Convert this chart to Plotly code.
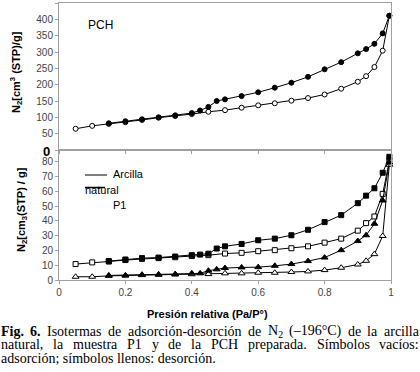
import plotly.graph_objects as go

# ---------------- data ----------------
pch_ads_x = [0.05, 0.1, 0.15, 0.2, 0.25, 0.3, 0.35, 0.4, 0.45, 0.5, 0.55, 0.6, 0.65, 0.7,
             0.75, 0.8, 0.85, 0.9, 0.925, 0.95, 0.975, 0.995]
pch_ads_y = [65, 74, 80, 85, 92, 99, 104, 110, 117, 122, 129.5, 136.7, 143, 151,
             159, 170, 187.7, 209, 226, 254, 304, 411]
pch_des_x = [0.15, 0.2, 0.25, 0.3, 0.35, 0.4, 0.425, 0.45, 0.475, 0.5, 0.55, 0.6, 0.65, 0.7,
             0.75, 0.8, 0.85, 0.9, 0.925, 0.95, 0.975, 0.995]
pch_des_y = [81.7, 88, 94, 100, 106, 113, 121, 132, 150, 155, 165, 176.6, 190.7, 206,
             224, 247, 269, 296, 309, 325, 357, 411]

ads_x = [0.05, 0.1, 0.15, 0.2, 0.25, 0.3, 0.35, 0.4, 0.45, 0.5, 0.55, 0.6, 0.65, 0.7,
         0.75, 0.8, 0.85, 0.9, 0.925, 0.95, 0.975, 0.995]
des_x = [0.15, 0.2, 0.25, 0.3, 0.35, 0.4, 0.425, 0.45, 0.475, 0.5, 0.55, 0.6, 0.65, 0.7,
         0.75, 0.8, 0.85, 0.9, 0.925, 0.95, 0.975, 0.995]

arc_ads_y = [10.8, 11.9, 12.5, 13.5, 14.3, 14.8, 15.4, 16.2, 16.8, 17.9, 18.4, 19.5, 20.2, 21.5,
             22.8, 25.3, 28.0, 33.4, 38.5, 43.0, 58.3, 80.7]
arc_des_y = [12.8, 13.9, 14.8, 15.2, 15.9, 16.8, 17.2, 17.8, 21.3, 22.8, 24.4, 26.9, 28.0, 30.3,
             34.0, 39.2, 43.9, 52.0, 57.1, 62.1, 72.6, 83.4]
p1_ads_y = [2.2, 2.2, 2.8, 3.0, 3.3, 3.5, 3.7, 3.9, 4.0, 4.5, 4.5, 4.9, 4.9, 5.4,
            5.8, 6.7, 8.3, 10.5, 13.0, 17.5, 29.8, 78.0]
p1_des_y = [3.1, 3.1, 3.6, 3.8, 4.0, 4.5, 4.5, 6.3, 7.2, 8.1, 8.5, 8.7, 9.6, 10.8,
            12.8, 15.2, 20.2, 26.4, 30.3, 38.1, 53.8, 79.5]

x_ticks = [0, 0.2, 0.4, 0.6, 0.8, 1]
x_ticklabels = ["0", "0.2", "0.4", "0.6", "0.8", "1"]
top_ticks = [0, 50, 100, 150, 200, 250, 300, 350, 400, 450]
bot_ticks = [0, 10, 20, 30, 40, 50, 60, 70, 80]

caption_line1 = ["<b>Fig.</b>", "<b>6.</b>", "Isotermas", "de", "adsorción-desorción", "de",
                 "N<sub>2</sub>", "(–196°C)", "de", "la", "arcilla"]
caption_line2 = ["natural,", "la", "muestra", "P1", "y", "de", "la", "PCH", "preparada.",
                 "Símbolos", "vacíos:"]
caption_line3 = "adsorción; símbolos llenos: desorción."

# ---------------- geometry helpers (pixel -> paper) ----------------
W, H = 420, 372
ML, MR, MT, MB = 59, 29, 3, 92
PW, PH = W - ML - MR, H - MT - MB


def px(x):
    return (x - ML) / PW


def py(y):
    return (H - MB - y) / PH


split = py(150)

fig = go.Figure()

LINE = dict(color="black", width=1)


def add(x, y, symbol, filled, axis, size):
    fig.add_trace(go.Scatter(
        x=x, y=y, mode="lines+markers", line=LINE,
        marker=dict(symbol=symbol, size=size, color="black" if filled else "white",
                    line=dict(color="black", width=1)),
        xaxis="x" if axis == 1 else "x2", yaxis="y" if axis == 1 else "y2",
        showlegend=False, cliponaxis=False))


add(pch_ads_x, pch_ads_y, "circle", False, 2, 5)
add(pch_des_x, pch_des_y, "circle", True, 2, 5)
add(ads_x, arc_ads_y, "square", False, 1, 5)
add(des_x, arc_des_y, "square", True, 1, 5)
add(ads_x, p1_ads_y, "triangle-up", False, 1, 6)
add(des_x, p1_des_y, "triangle-up", True, 1, 6)

SANS = "Liberation Sans, Arial"
TICKFONT = dict(family=SANS, size=10, color="#444")
axis_common = dict(showgrid=False, zeroline=False, showline=True, mirror=True,
                   linecolor="#a0a0a0", linewidth=1, ticks="outside", ticklen=3,
                   tickcolor="#a0a0a0", tickfont=TICKFONT)

fig.update_layout(
    width=W, height=H,
    margin=dict(l=ML, r=MR, t=MT, b=MB),
    paper_bgcolor="white", plot_bgcolor="white",
    xaxis=dict(range=[0, 1], domain=[0, 1], anchor="y", tickvals=x_ticks,
               ticktext=x_ticklabels, **axis_common),
    yaxis=dict(range=[0, 88], domain=[0, split], anchor="x", tickvals=bot_ticks,
               **axis_common),
    xaxis2=dict(range=[0, 1], domain=[0, 1], anchor="y2", matches="x", tickvals=x_ticks,
                showticklabels=False, **axis_common),
    yaxis2=dict(range=[0, 450], domain=[split, 1], anchor="x2", tickvals=top_ticks,
                ticktext=[""] + [str(v) for v in top_ticks[1:]], **axis_common),
)

ann = []


def note(text, x, y, size=11, xanchor="center", yanchor="middle", angle=0, family=SANS):
    ann.append(dict(x=px(x), y=py(y), xref="paper", yref="paper", text=text,
                    xanchor=xanchor, yanchor=yanchor, textangle=angle, showarrow=False,
                    borderpad=0, font=dict(family=family, size=size, color="black")))


# y-axis titles
note("<b>N<sub>2</sub>[cm<sup>3</sup> (STP)/g]</b>", 16, 72, angle=-90)
note("<b>N<sub>2</sub>[cm<sub>3</sub>(STP) / g]</b>", 22, 210, angle=-90)
# top panel large "0"
note("<b>0</b>", 51, 151, size=13, xanchor="right")
# x title
note("<b>Presión relativa (Pa/P°)</b>", 207, 314)
# PCH label
note("PCH", 87, 25, size=12, xanchor="left")
# legend texts
note("Arcilla", 112, 174, xanchor="left")
note("natural", 84, 190, xanchor="left")
note("P1", 112, 205, xanchor="left")

# caption (Times metrics, 1/1000 em) for justified lines
TW = {' ': 250, 'a': 444, 'b': 500, 'c': 444, 'd': 500, 'e': 444, 'f': 333, 'g': 500,
      'h': 500, 'i': 278, 'j': 278, 'k': 500, 'l': 278, 'm': 778, 'n': 500, 'o': 500,
      'p': 500, 'q': 500, 'r': 333, 's': 389, 't': 278, 'u': 500, 'v': 500, 'w': 722,
      'x': 500, 'y': 500, 'z': 444, 'ó': 500, 'í': 278, 'F': 611, 'I': 333, 'N': 722,
      'P': 556, 'C': 667, 'H': 722, 'S': 556, '.': 250, ',': 250, ':': 278, ';': 278,
      '-': 333, '(': 333, ')': 333, '–': 500, '°': 400, '0': 500, '1': 500, '2': 500,
      '3': 500, '4': 500, '5': 500, '6': 500, '7': 500, '8': 500, '9': 500}
CAPSIZE = 14
SERIF = "Liberation Serif, Times New Roman"


def word_width(w):
    plain = w.replace("<b>", "").replace("</b>", "")
    if "<sub>" in plain:
        base, sub = plain.split("<sub>")
        sub = sub.replace("</sub>", "")
        return (sum(TW.get(c, 500) for c in base) + 0.7 * sum(TW.get(c, 500) for c in sub)) * CAPSIZE / 1000
    return sum(TW.get(c, 500) for c in plain) * CAPSIZE / 1000


def justify(words, y, left=0, right=418):
    widths = [word_width(w) for w in words]
    gap = (right - left - sum(widths)) / (len(words) - 1)
    x = left
    for w, wd in zip(words, widths):
        note(w, x, y, size=CAPSIZE, xanchor="left", family=SERIF)
        x += wd + gap


justify(caption_line1, 331)
justify(caption_line2, 344.5)
note(caption_line3, 0, 358, size=CAPSIZE, xanchor="left", family=SERIF)

fig.update_layout(annotations=ann)

fig.update_layout(shapes=[
    dict(type="line", xref="paper", yref="paper", x0=px(85), x1=px(107), y0=py(175), y1=py(175),
         line=dict(color="black", width=1)),
    dict(type="line", xref="paper", yref="paper", x0=px(85), x1=px(105), y0=py(187.5), y1=py(187.5),
         line=dict(color="black", width=1.5)),
])

fig.write_html("out.html", config={"displayModeBar": False},
               post_script="document.body.style.margin='0';")
